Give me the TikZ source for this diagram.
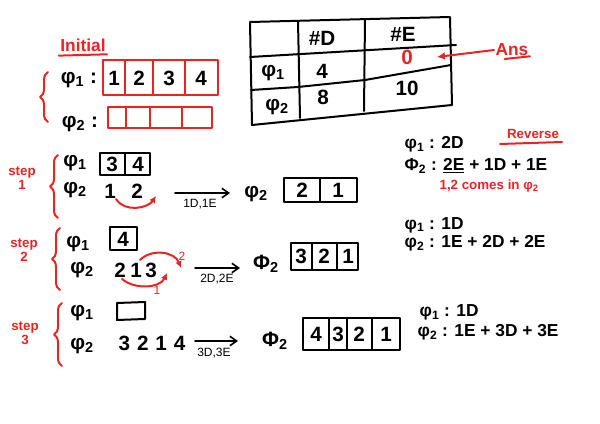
\documentclass[tikz,border=0pt]{standalone}
\usepackage{fontspec}
\setmainfont{Liberation Sans}
\usetikzlibrary{arrows.meta,decorations.pathreplacing}
\definecolor{pen}{RGB}{235,35,35}
\newcommand{\phs}[1]{φ\textsubscript{#1}}
\begin{document}
\begin{tikzpicture}[x=0.75pt,y=-0.75pt,
  ink/.style={line width=1.5pt,black,line join=round,line cap=round},
  redink/.style={line width=1.5pt,pen,line join=round,line cap=round},
  big/.style={font=\bfseries\fontsize{15.5}{18}\selectfont,inner sep=1pt},
  mid/.style={font=\bfseries\fontsize{13}{15}\selectfont,inner sep=1pt},
  small/.style={font=\fontsize{9}{11}\selectfont,inner sep=1pt},
  redlab/.style={text=pen,font=\bfseries\fontsize{10}{10.5}\selectfont,inner sep=1pt},
  redtxt/.style={text=pen},
  brace/.style={redink,decorate,decoration={brace,amplitude=6pt}},
  arr/.style={ink,line width=1.2pt,-{Straight Barb[length=5pt,width=7pt]}}]
\useasboundingbox (0,0) rectangle (600,424);
\fill[white] (0,0) rectangle (600,424);

% ---------- Initial ----------
\node[redlab,font=\bfseries\fontsize{13}{15}\selectfont] (init) at (83,45) {Initial};
\draw[redink] ([yshift=-2]init.south west) -- ([yshift=-1]init.south east);
\draw[brace] (48,122) -- (48,72);
\node[big] (p1i) at (79,80) {\phs{1} :};
\node[big] (p2i) at (80,124) {\phs{2} :};
\draw[redink] (103,60) rectangle (218,95);
\foreach \x in {125,153,185} \draw[redink] (\x,60) -- (\x,95);
\node[big] (c1) at (114,78) {1};
\node[big] (c2) at (139,78) {2};
\node[big] (c3) at (169,78) {3};
\node[big] (c4) at (201,78) {4};
\draw[redink] (108,107) rectangle (212,128);
\foreach \x in {126,150,182} \draw[redink] (\x,107) -- (\x,128);

% ---------- Table ----------
\draw[ink] (250,22) -- (450,17) -- (452,105) -- (252,125) -- cycle;
\draw[ink] (250,57) -- (456,45);
\draw[ink] (251,90) -- (298,87) -- (365,80) -- (451,65);
\draw[ink] (298,21) -- (300,118);
\draw[ink] (365,19) -- (364,111);
\node[big] (hd) at (322,38) {\#D};
\node[big] (he) at (403,34) {\#E};
\node[big] (t1) at (273,73) {\phs{1}};
\node[big] (t2) at (277,107) {\phs{2}};
\node[big] (t14) at (322,71) {4};
\node[big,redtxt] (t1e) at (407,57) {0};
\node[big] (t28) at (323,97) {8};
\node[big] (t2e) at (407,88) {10};
\node[redlab,font=\bfseries\fontsize{13}{15}\selectfont] (ans) at (512,50) {Ans};
\draw[redink] ([xshift=8,yshift=-1]ans.south west) -- ([yshift=1]ans.south east);
\draw[redink,-{Latex[length=6pt,width=6pt]}] (ans.west) -- (437,57);

% ---------- Step 1 ----------
\node[redlab,align=center] (s1) at (22,178) {step\\1};
\draw[brace] (58,218) -- (58,155);
\node[big] (s1p1) at (75,163) {\phs{1}};
\draw[ink] (100,153) rectangle (150,175);
\draw[ink] (125,153) -- (125,175);
\node[big] (s1a) at (112,164) {3};
\node[big] (s1b) at (138,164) {4};
\node[big] (s1p2) at (75,190) {\phs{2}};
\node[big] (s1n1) at (110,191) {1};
\node[big] (s1n2) at (137,191) {2};
\draw[redink,-{Latex[length=5pt,width=5pt]}] (116,199) .. controls (125,213) and (148,208) .. (156,196);
\coordinate (s1from) at (175,193);
\coordinate (s1to) at (230,193);
\draw[arr] (s1from) -- (s1to);
\node[small] (s1lab) at (200,204) {1D,1E};
\node[big] (s1q) at (256,194) {\phs{2}};
\draw[ink] (284,178) rectangle (357,202);
\draw[ink] (320,178) -- (320,202);
\node[big] (s1c) at (302,190) {2};
\node[big] (s1d) at (338,190) {1};

% ---------- Step 2 ----------
\node[redlab,align=center] (s2) at (24,250) {step\\2};
\draw[brace] (60,290) -- (60,228);
\node[big] (s2p1) at (78,244) {\phs{1}};
\draw[ink] (110,227) rectangle (137,250);
\node[big] (s2a) at (123,239) {4};
\node[big] (s2p2) at (82,270) {\phs{2}};
\node[big] (s2n1) at (120,270) {2};
\node[big] (s2n2) at (136,270) {1};
\node[big] (s2n3) at (151,270) {3};
\draw[redink,-{Latex[length=5pt,width=5pt]}] (140,260) .. controls (152,248) and (175,252) .. (181,268);
\draw[redink,-{Latex[length=5pt,width=5pt]}] (122,279) .. controls (135,290) and (160,288) .. (167,273);
\node[small,redtxt] (s2l2) at (182,256) {2};
\node[small,redtxt] (s2l1) at (157,290) {1};
\coordinate (s2from) at (195,268);
\coordinate (s2to) at (240,268);
\draw[arr] (s2from) -- (s2to);
\node[small] (s2lab) at (217,279) {2D,2E};
\node[big] (s2q) at (266,264) {Φ\textsubscript{2}};
\draw[ink] (291,243) rectangle (358,270);
\foreach \x in {312,337} \draw[ink] (\x,243) -- (\x,270);
\node[big] (s2c) at (301,256) {3};
\node[big] (s2d) at (324,256) {2};
\node[big] (s2e) at (348,256) {1};

% ---------- Step 3 ----------
\node[redlab,align=center] (s3) at (25,333) {step\\3};
\draw[brace] (62,366) -- (62,303);
\node[big] (s3p1) at (82,313) {\phs{1}};
\draw[ink] (117,303) -- (145,302) -- (145,319) -- (117,320) -- cycle;
\node[big] (s3p2) at (82,346) {\phs{2}};
\node[big] (s3seq) at (152,343) {3\,\,2\,\,1\,\,4};
\coordinate (s3from) at (195,341);
\coordinate (s3to) at (238,341);
\draw[arr] (s3from) -- (s3to);
\node[small] (s3lab) at (214,353) {3D,3E};
\node[big] (s3q) at (275,341) {Φ\textsubscript{2}};
\draw[ink] (303,318) rectangle (400,350);
\foreach \x in {329,347,372} \draw[ink] (\x,318) -- (\x,350);
\node[big] (s3c) at (316,334) {4};
\node[big] (s3d) at (338,334) {3};
\node[big] (s3e) at (359,334) {2};
\node[big] (s3f) at (386,334) {1};

% ---------- Notes ----------
\node[mid,anchor=west] (n1a) at (403,144) {φ\textsubscript{1} : 2D};
\node[mid,anchor=west] (n1b) at (403,166) {Φ\textsubscript{2} : \underline{2E} + 1D + 1E};
\node[redlab] (rev) at (533,134) {Reverse};
\draw[redink] (500,144) -- (562,142);
\node[redlab,anchor=west] (com) at (438,186) {1,2 comes in φ\textsubscript{2}};
\node[mid,anchor=west] (n2a) at (403,225) {φ\textsubscript{1} : 1D};
\node[mid,anchor=west] (n2b) at (403,243) {φ\textsubscript{2} : 1E + 2D + 2E};
\node[mid,anchor=west] (n3a) at (418,312) {φ\textsubscript{1} : 1D};
\node[mid,anchor=west] (n3b) at (416,332) {φ\textsubscript{2} : 1E + 3D + 3E};
\end{tikzpicture}
\end{document}
